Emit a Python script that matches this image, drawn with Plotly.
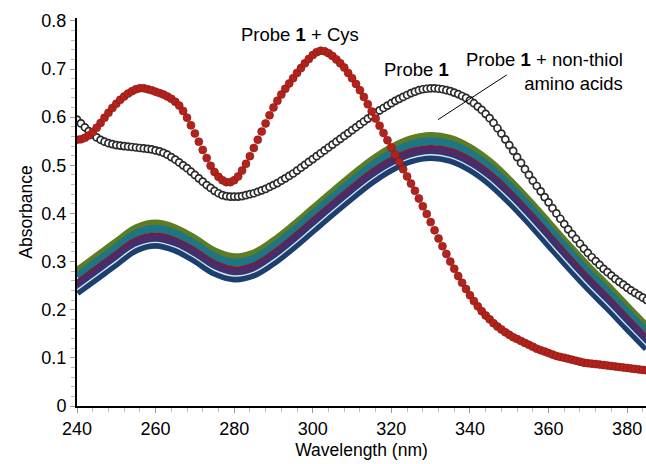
import plotly.graph_objects as go

# ---- data ----
wl_dense = list(range(240, 386))  # 1-nm steps

probe_cys = [
    0.553, 0.554, 0.557, 0.562, 0.569, 0.578, 0.588, 0.599, 0.609, 0.619,
    0.628, 0.636, 0.643, 0.649, 0.654, 0.658, 0.660, 0.660, 0.658, 0.656,
    0.653, 0.650, 0.647, 0.643, 0.638, 0.632, 0.624, 0.613, 0.599, 0.583,
    0.566, 0.549, 0.532, 0.515, 0.499, 0.486, 0.476, 0.469, 0.465, 0.465,
    0.469, 0.477, 0.489, 0.503, 0.519, 0.536, 0.553, 0.570, 0.587, 0.604,
    0.620, 0.634, 0.647, 0.659, 0.670, 0.681, 0.692, 0.702, 0.712, 0.721,
    0.729, 0.735, 0.738, 0.737, 0.733, 0.727, 0.720, 0.712, 0.703, 0.692,
    0.681, 0.669, 0.656, 0.642, 0.627, 0.612, 0.597, 0.582, 0.567, 0.552,
    0.537, 0.522, 0.507, 0.492, 0.477, 0.462, 0.447, 0.431, 0.415, 0.399,
    0.382, 0.365, 0.348, 0.332, 0.316, 0.300, 0.285, 0.270, 0.256, 0.243,
    0.230, 0.218, 0.207, 0.197, 0.188, 0.180, 0.172, 0.165, 0.159, 0.153,
    0.148, 0.143, 0.139, 0.135, 0.131, 0.127, 0.123, 0.119, 0.116, 0.113,
    0.110, 0.107, 0.104, 0.102, 0.100, 0.098, 0.096, 0.094, 0.092, 0.090,
    0.089, 0.088, 0.087, 0.086, 0.085, 0.084, 0.083, 0.082, 0.081, 0.080,
    0.079, 0.078, 0.077, 0.076, 0.075, 0.074,
]

probe_only = [
    0.595, 0.587, 0.579, 0.571, 0.564, 0.558, 0.553, 0.549, 0.546, 0.544,
    0.542, 0.541, 0.540, 0.539, 0.538, 0.537, 0.536, 0.535, 0.534, 0.533,
    0.531, 0.529, 0.526, 0.522, 0.517, 0.512, 0.506, 0.500, 0.494, 0.487,
    0.480, 0.473, 0.466, 0.459, 0.453, 0.447, 0.442, 0.438, 0.436, 0.435,
    0.435, 0.435, 0.436, 0.438, 0.440, 0.442, 0.445, 0.448, 0.451, 0.455,
    0.459, 0.463, 0.468, 0.473, 0.478, 0.483, 0.489, 0.495, 0.501, 0.507,
    0.513, 0.519, 0.525, 0.531, 0.537, 0.543, 0.549, 0.555, 0.561, 0.567,
    0.573, 0.579, 0.585, 0.591, 0.597, 0.603, 0.609, 0.614, 0.619, 0.624,
    0.629, 0.634, 0.638, 0.642, 0.646, 0.650, 0.653, 0.656, 0.658, 0.659,
    0.660, 0.660, 0.659, 0.658, 0.656, 0.654, 0.651, 0.648, 0.644, 0.640,
    0.635, 0.629, 0.622, 0.615, 0.607, 0.598, 0.588, 0.577, 0.566, 0.554,
    0.542, 0.530, 0.517, 0.505, 0.492, 0.480, 0.468, 0.457, 0.446, 0.434,
    0.423, 0.411, 0.400, 0.389, 0.378, 0.367, 0.357, 0.347, 0.337, 0.327,
    0.318, 0.309, 0.301, 0.293, 0.285, 0.278, 0.271, 0.264, 0.258, 0.252,
    0.246, 0.240, 0.235, 0.230, 0.225, 0.220,
]

wl_band = [240, 245, 250, 255, 260, 265, 270, 275, 280, 285,
           290, 295, 300, 305, 310, 315, 320, 325, 330, 335,
           340, 345, 350, 355, 360, 365, 370, 375, 380, 385]

aa_green = [0.280, 0.310, 0.340, 0.369, 0.379, 0.369, 0.347, 0.321, 0.309, 0.317,
            0.342, 0.374, 0.409, 0.444, 0.478, 0.510, 0.536, 0.554, 0.561, 0.555,
            0.536, 0.507, 0.469, 0.426, 0.380, 0.334, 0.290, 0.249, 0.206, 0.164]
aa_teal = [0.269, 0.299, 0.329, 0.358, 0.368, 0.358, 0.336, 0.310, 0.298, 0.306,
           0.331, 0.363, 0.398, 0.433, 0.467, 0.499, 0.525, 0.543, 0.550, 0.544,
           0.525, 0.496, 0.458, 0.415, 0.369, 0.323, 0.279, 0.238, 0.195, 0.153]
aa_darkred = [0.253, 0.283, 0.313, 0.342, 0.352, 0.342, 0.320, 0.294, 0.282, 0.290,
              0.315, 0.347, 0.382, 0.417, 0.451, 0.483, 0.509, 0.527, 0.534, 0.528,
              0.509, 0.480, 0.442, 0.399, 0.353, 0.307, 0.263, 0.222, 0.179, 0.137]
aa_purple = [0.249, 0.279, 0.309, 0.338, 0.348, 0.338, 0.316, 0.290, 0.278, 0.286,
             0.311, 0.343, 0.378, 0.413, 0.447, 0.479, 0.505, 0.523, 0.530, 0.524,
             0.505, 0.476, 0.438, 0.395, 0.349, 0.303, 0.259, 0.218, 0.175, 0.133]
aa_navy = [0.236, 0.266, 0.296, 0.325, 0.335, 0.325, 0.303, 0.277, 0.265, 0.273,
           0.298, 0.330, 0.365, 0.400, 0.434, 0.466, 0.492, 0.510, 0.517, 0.511,
           0.492, 0.463, 0.425, 0.382, 0.336, 0.290, 0.246, 0.205, 0.162, 0.120]
aa_white = [0.241, 0.271, 0.301, 0.330, 0.340, 0.330, 0.308, 0.282, 0.270, 0.278,
            0.303, 0.335, 0.370, 0.405, 0.439, 0.471, 0.497, 0.515, 0.522, 0.516,
            0.497, 0.468, 0.430, 0.387, 0.341, 0.295, 0.251, 0.210, 0.167, 0.125]

x_ticks = [240, 260, 280, 300, 320, 340, 360, 380]
y_ticks = [0, 0.1, 0.2, 0.3, 0.4, 0.5, 0.6, 0.7, 0.8]
y_tick_labels = ["0", "0.1", "0.2", "0.3", "0.4", "0.5", "0.6", "0.7", "0.8"]

FONT = "Liberation Sans, Arial, Helvetica, sans-serif"

fig = go.Figure()

band = [
    (aa_green, "#5d7d22", 8),
    (aa_teal, "#1e7585", 8),
    (aa_darkred, "#7a1e33", 8),
    (aa_purple, "#4a2c6c", 8),
    (aa_navy, "#1d3f70", 8),
    (aa_white, "rgba(255,255,255,0.85)", 1.4),
]
for vals, col, w in band:
    fig.add_trace(go.Scatter(x=wl_band, y=vals, mode="lines",
                             line=dict(color=col, width=w, shape="spline"),
                             showlegend=False, hoverinfo="skip"))

fig.add_trace(go.Scatter(
    x=wl_dense, y=probe_only, mode="markers",
    marker=dict(size=7, color="white", line=dict(color="#2a2a2a", width=1.7)),
    showlegend=False))

fig.add_trace(go.Scatter(
    x=wl_dense, y=probe_cys, mode="markers",
    marker=dict(size=8, color="#b3231d", line=dict(color="#8c1612", width=0.6)),
    showlegend=False))

ann_font = dict(family=FONT, size=18.5, color="black")
fig.add_annotation(x=296.7, y=0.771, text="Probe <b>1</b> + Cys", showarrow=False,
                   font=ann_font, xanchor="center", yanchor="middle")
fig.add_annotation(x=326.5, y=0.699, text="Probe <b>1</b>", showarrow=False,
                   font=ann_font, xanchor="center", yanchor="middle")
fig.add_annotation(x=379.5, y=0.694, text="Probe <b>1</b> + non-thiol<br>amino acids",
                   showarrow=False, font=ann_font, xanchor="right", yanchor="middle",
                   align="right")
fig.add_shape(type="line", x0=349.4, y0=0.688, x1=331.9, y1=0.595,
              line=dict(color="black", width=1))

fig.update_layout(
    width=646, height=464,
    margin=dict(l=77, r=0, t=18, b=58),
    paper_bgcolor="white", plot_bgcolor="white",
    font=dict(family=FONT, size=18, color="black"),
    showlegend=False,
)
fig.update_xaxes(
    range=[240, 384.8], tickvals=x_ticks, showgrid=False, zeroline=False,
    showline=True, linecolor="black", linewidth=2,
    ticks="outside", ticklen=5, tickcolor="#999", tickwidth=1,
    minor=dict(dtick=4, tick0=240, ticks="outside", ticklen=4, tickcolor="#bbb", tickwidth=1),
    tickfont=dict(size=18),
    title=dict(text="Wavelength (nm)", font=dict(size=17.5), standoff=6),
)
fig.update_yaxes(
    range=[0, 0.806], tickvals=y_ticks, ticktext=y_tick_labels, showgrid=False,
    zeroline=False, showline=True, linecolor="black", linewidth=2,
    ticks="outside", ticklen=5, tickcolor="#999", tickwidth=1,
    minor=dict(dtick=0.02, tick0=0, ticks="outside", ticklen=4, tickcolor="#bbb", tickwidth=1),
    tickfont=dict(size=18),
    title=dict(text="Absorbance", font=dict(size=17.5), standoff=4),
)

fig.write_html("out.html", config={"displayModeBar": False},
               post_script="document.body.style.margin='0px';document.body.style.overflow='hidden';")
